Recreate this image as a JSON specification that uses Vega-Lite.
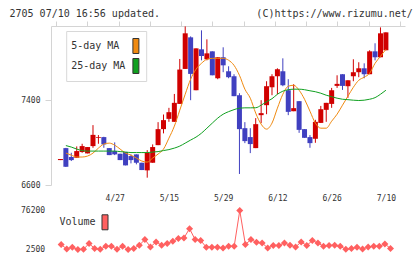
{
  "$schema": "https://vega.github.io/schema/vega-lite/v6.json",
  "background": "#ffffff",
  "padding": {"left": 9, "top": 9, "right": 0, "bottom": 0},
  "title": {
    "text": "2705 07/10 16:56 updated.\u00a0\u00a0\u00a0\u00a0\u00a0\u00a0\u00a0\u00a0\u00a0\u00a0\u00a0\u00a0\u00a0\u00a0\u00a0\u00a0(C)https://www.rizumu.net/",
    "anchor": "start",
    "font": "DejaVu Sans Mono",
    "fontSize": 10,
    "fontWeight": "normal",
    "color": "#333333",
    "dx": -11,
    "offset": 1.5
  },
  "config": {
    "view": {"stroke": null},
    "font": "DejaVu Sans Mono",
    "axis": {
      "labelFont": "DejaVu Sans Mono",
      "labelFontSize": 8,
      "labelColor": "#333333",
      "domainColor": "#d4d4d4",
      "tickColor": "#d4d4d4",
      "grid": false,
      "title": null
    },
    "legend": {"labelFont": "DejaVu Sans Mono", "labelFontSize": 10, "labelColor": "#333333"}
  },
  "datasets": {
    "stock": [
      {"i": 0, "date": "4/13", "open": 6835, "high": 6845, "low": 6835, "close": 6845, "ma5": null, "ma25": null, "volume": null},
      {"i": 1, "date": "4/14", "open": 6948, "high": 6950, "low": 6770, "close": 6772, "ma5": 6901, "ma25": 6972, "volume": 11900},
      {"i": 2, "date": "4/15", "open": 6864, "high": 6904, "low": 6826, "close": 6835, "ma5": 6882, "ma25": 6958, "volume": 3600},
      {"i": 3, "date": "4/16", "open": 6857, "high": 6964, "low": 6857, "close": 6920, "ma5": 6864, "ma25": 6939, "volume": 6800},
      {"i": 4, "date": "4/17", "open": 6911, "high": 6989, "low": 6904, "close": 6967, "ma5": 6864, "ma25": 6925, "volume": 2500},
      {"i": 5, "date": "4/20", "open": 6898, "high": 6958, "low": 6898, "close": 6958, "ma5": 6873, "ma25": 6920, "volume": 3000},
      {"i": 6, "date": "4/21", "open": 6967, "high": 7165, "low": 6951, "close": 7073, "ma5": 6901, "ma25": 6920, "volume": 13750},
      {"i": 7, "date": "4/22", "open": 7045, "high": 7071, "low": 6989, "close": 7052, "ma5": 6948, "ma25": 6920, "volume": 4400},
      {"i": 8, "date": "4/23", "open": 7052, "high": 7055, "low": 6951, "close": 6983, "ma5": 6986, "ma25": 6920, "volume": 3000},
      {"i": 9, "date": "4/24", "open": 6948, "high": 6948, "low": 6882, "close": 6882, "ma5": 6995, "ma25": 6920, "volume": 8700},
      {"i": 10, "date": "4/27", "open": 6920, "high": 7002, "low": 6882, "close": 6889, "ma5": 6976, "ma25": 6920, "volume": 8700},
      {"i": 11, "date": "4/28", "open": 6895, "high": 6895, "low": 6835, "close": 6835, "ma5": 6939, "ma25": 6915, "volume": 2900},
      {"i": 12, "date": "4/30", "open": 6911, "high": 6911, "low": 6785, "close": 6785, "ma5": 6901, "ma25": 6911, "volume": 8700},
      {"i": 13, "date": "5/1", "open": 6873, "high": 6889, "low": 6804, "close": 6835, "ma5": 6882, "ma25": 6906, "volume": 2500},
      {"i": 14, "date": "5/7", "open": 6889, "high": 6889, "low": 6795, "close": 6810, "ma5": 6854, "ma25": 6906, "volume": 4400},
      {"i": 15, "date": "5/8", "open": 6810, "high": 6810, "low": 6741, "close": 6741, "ma5": 6826, "ma25": 6906, "volume": 10600},
      {"i": 16, "date": "5/11", "open": 6738, "high": 6929, "low": 6669, "close": 6904, "ma5": 6816, "ma25": 6906, "volume": 21300},
      {"i": 17, "date": "5/12", "open": 6810, "high": 6983, "low": 6810, "close": 6958, "ma5": 6854, "ma25": 6911, "volume": 7400},
      {"i": 18, "date": "5/13", "open": 6976, "high": 7193, "low": 6976, "close": 7127, "ma5": 6892, "ma25": 6915, "volume": 16800},
      {"i": 19, "date": "5/14", "open": 7127, "high": 7265, "low": 7087, "close": 7212, "ma5": 6939, "ma25": 6925, "volume": 10600},
      {"i": 20, "date": "5/15", "open": 7224, "high": 7328, "low": 7196, "close": 7287, "ma5": 7042, "ma25": 6934, "volume": 13800},
      {"i": 21, "date": "5/18", "open": 7196, "high": 7459, "low": 7196, "close": 7375, "ma5": 7155, "ma25": 6948, "volume": 18100},
      {"i": 22, "date": "5/19", "open": 7365, "high": 7789, "low": 7365, "close": 7689, "ma5": 7306, "ma25": 6967, "volume": 23100},
      {"i": 23, "date": "5/20", "open": 7695, "high": 8096, "low": 7695, "close": 8031, "ma5": 7456, "ma25": 6995, "volume": 24300},
      {"i": 24, "date": "5/21", "open": 7993, "high": 8002, "low": 7400, "close": 7648, "ma5": 7598, "ma25": 7024, "volume": 41900},
      {"i": 25, "date": "5/22", "open": 7494, "high": 7889, "low": 7494, "close": 7889, "ma5": 7692, "ma25": 7052, "volume": 21300},
      {"i": 26, "date": "5/25", "open": 7880, "high": 8059, "low": 7776, "close": 7817, "ma5": 7748, "ma25": 7089, "volume": 19400},
      {"i": 27, "date": "5/26", "open": 7786, "high": 7974, "low": 7776, "close": 7842, "ma5": 7786, "ma25": 7136, "volume": 6800},
      {"i": 28, "date": "5/27", "open": 7861, "high": 7861, "low": 7635, "close": 7635, "ma5": 7795, "ma25": 7184, "volume": 6800},
      {"i": 29, "date": "5/28", "open": 7607, "high": 7805, "low": 7598, "close": 7805, "ma5": 7795, "ma25": 7231, "volume": 6800},
      {"i": 30, "date": "5/29", "open": 7805, "high": 7899, "low": 7664, "close": 7729, "ma5": 7795, "ma25": 7268, "volume": 5500},
      {"i": 31, "date": "6/1", "open": 7673, "high": 7720, "low": 7607, "close": 7617, "ma5": 7777, "ma25": 7292, "volume": 8700},
      {"i": 32, "date": "6/2", "open": 7626, "high": 7645, "low": 7438, "close": 7438, "ma5": 7729, "ma25": 7311, "volume": 8700},
      {"i": 33, "date": "6/3", "open": 7447, "high": 7466, "low": 6704, "close": 7127, "ma5": 7635, "ma25": 7325, "volume": 76200},
      {"i": 34, "date": "6/4", "open": 7136, "high": 7193, "low": 6995, "close": 7014, "ma5": 7504, "ma25": 7328, "volume": 11900},
      {"i": 35, "date": "6/5", "open": 7052, "high": 7136, "low": 6901, "close": 6986, "ma5": 7419, "ma25": 7328, "volume": 21300},
      {"i": 36, "date": "6/8", "open": 6948, "high": 7231, "low": 6948, "close": 7174, "ma5": 7278, "ma25": 7329, "volume": 16200},
      {"i": 37, "date": "6/9", "open": 7259, "high": 7400, "low": 7184, "close": 7278, "ma5": 7174, "ma25": 7353, "volume": 14900},
      {"i": 38, "date": "6/10", "open": 7353, "high": 7579, "low": 7268, "close": 7532, "ma5": 7127, "ma25": 7386, "volume": 5500},
      {"i": 39, "date": "6/11", "open": 7522, "high": 7645, "low": 7447, "close": 7626, "ma5": 7184, "ma25": 7414, "volume": 10000},
      {"i": 40, "date": "6/12", "open": 7626, "high": 7701, "low": 7456, "close": 7692, "ma5": 7325, "ma25": 7456, "volume": 10000},
      {"i": 41, "date": "6/15", "open": 7673, "high": 7795, "low": 7532, "close": 7541, "ma5": 7456, "ma25": 7485, "volume": 14900},
      {"i": 42, "date": "6/16", "open": 7494, "high": 7598, "low": 7259, "close": 7290, "ma5": 7532, "ma25": 7499, "volume": 10600},
      {"i": 43, "date": "6/17", "open": 7296, "high": 7551, "low": 7296, "close": 7325, "ma5": 7541, "ma25": 7504, "volume": 7400},
      {"i": 44, "date": "6/18", "open": 7391, "high": 7391, "low": 7092, "close": 7120, "ma5": 7494, "ma25": 7504, "volume": 16800},
      {"i": 45, "date": "6/19", "open": 7127, "high": 7127, "low": 7045, "close": 7045, "ma5": 7409, "ma25": 7499, "volume": 10000},
      {"i": 46, "date": "6/22", "open": 7052, "high": 7071, "low": 6951, "close": 6995, "ma5": 7296, "ma25": 7489, "volume": 19400},
      {"i": 47, "date": "6/23", "open": 7036, "high": 7215, "low": 6998, "close": 7196, "ma5": 7184, "ma25": 7480, "volume": 14900},
      {"i": 48, "date": "6/24", "open": 7186, "high": 7346, "low": 7186, "close": 7315, "ma5": 7136, "ma25": 7466, "volume": 8700},
      {"i": 49, "date": "6/25", "open": 7309, "high": 7375, "low": 7196, "close": 7375, "ma5": 7136, "ma25": 7447, "volume": 10000},
      {"i": 50, "date": "6/26", "open": 7365, "high": 7516, "low": 7328, "close": 7494, "ma5": 7202, "ma25": 7433, "volume": 10600},
      {"i": 51, "date": "6/29", "open": 7535, "high": 7635, "low": 7516, "close": 7554, "ma5": 7268, "ma25": 7419, "volume": 8700},
      {"i": 52, "date": "6/30", "open": 7645, "high": 7645, "low": 7497, "close": 7535, "ma5": 7353, "ma25": 7409, "volume": 2800},
      {"i": 53, "date": "7/1", "open": 7532, "high": 7588, "low": 7422, "close": 7588, "ma5": 7438, "ma25": 7405, "volume": 4400},
      {"i": 54, "date": "7/2", "open": 7626, "high": 7786, "low": 7579, "close": 7664, "ma5": 7522, "ma25": 7400, "volume": 6800},
      {"i": 55, "date": "7/3", "open": 7664, "high": 7758, "low": 7617, "close": 7701, "ma5": 7588, "ma25": 7397, "volume": 3600},
      {"i": 56, "date": "7/6", "open": 7701, "high": 7748, "low": 7607, "close": 7645, "ma5": 7617, "ma25": 7400, "volume": 7400},
      {"i": 57, "date": "7/7", "open": 7645, "high": 7871, "low": 7645, "close": 7861, "ma5": 7654, "ma25": 7409, "volume": 8700},
      {"i": 58, "date": "7/8", "open": 7861, "high": 7937, "low": 7776, "close": 7805, "ma5": 7748, "ma25": 7424, "volume": 8700},
      {"i": 59, "date": "7/9", "open": 7805, "high": 8087, "low": 7805, "close": 8031, "ma5": 7814, "ma25": 7456, "volume": 13000},
      {"i": 60, "date": "7/10", "open": 7871, "high": 8040, "low": 7871, "close": 8040, "ma5": 7880, "ma25": 7494, "volume": 4400}
    ]
  },
  "data": {"name": "stock"},
  "spacing": 3.5,
  "resolve": {
    "scale": {"x": "independent", "y": "independent", "fill": "independent"},
    "legend": {"fill": "independent"}
  },
  "vconcat": [
    {
      "width": 354,
      "height": 159,
      "layer": [
        {
          "mark": {"type": "rule", "strokeWidth": 1},
          "encoding": {
            "x": {
              "field": "i",
              "type": "quantitative",
              "scale": {"domain": [-0.82, 62.6], "nice": false, "zero": false},
              "axis": {
                "values": [10, 20, 30, 40, 50, 60],
                "labelExpr": "datum.value == 10 ? '4/27' : datum.value == 20 ? '5/15' : datum.value == 30 ? '5/29' : datum.value == 40 ? '6/12' : datum.value == 50 ? '6/26' : '7/10'",
                "ticks": false,
                "domain": false,
                "labelPadding": 9.5,
                "labelFlush": false,
                "labelOverlap": false
              }
            },
            "y": {
              "field": "low",
              "type": "quantitative",
              "scale": {"domain": [6600, 8100], "nice": false, "zero": false},
              "axis": {"values": [6600, 7400], "format": "d", "tickSize": 6, "labelPadding": 5, "domain": true}
            },
            "y2": {"field": "high"},
            "color": {"condition": {"test": "datum.close >= datum.open", "value": "#d00000"}, "value": "#4040c0"}
          }
        },
        {
          "mark": {"type": "bar", "width": 5},
          "encoding": {
            "x": {
              "field": "i",
              "type": "quantitative",
              "axis": {
                "values": [-0.82, 4.945, 10.71, 16.475, 22.24, 28.005, 33.77, 39.535, 45.3, 51.065, 56.83, 62.595],
                "labels": false,
                "tickSize": 5,
                "domain": true
              }
            },
            "y": {"field": "open", "type": "quantitative"},
            "y2": {"field": "close"},
            "color": {"condition": {"test": "datum.close >= datum.open", "value": "#d00000"}, "value": "#4040c0"}
          }
        },
        {
          "mark": {"type": "line", "strokeWidth": 1, "interpolate": "monotone", "color": "#f08a10"},
          "encoding": {
            "x": {"field": "i", "type": "quantitative", "axis": null},
            "y": {"field": "ma5", "type": "quantitative"}
          }
        },
        {
          "mark": {"type": "line", "strokeWidth": 1, "interpolate": "monotone", "color": "#10a020"},
          "encoding": {
            "x": {"field": "i", "type": "quantitative", "axis": null},
            "y": {"field": "ma25", "type": "quantitative"}
          }
        },
        {
          "transform": [{"filter": "false"}],
          "mark": {"type": "square", "filled": true, "stroke": "#333333", "strokeWidth": 1},
          "encoding": {
            "fill": {
              "field": "date",
              "type": "nominal",
              "scale": {"domain": ["\u00a05-day MA", "25-day MA"], "range": ["#f08a10", "#10a020"]},
              "legend": {
                "orient": "none",
                "legendX": 15.2,
                "legendY": 5,
                "title": null,
                "padding": 5,
                "cornerRadius": 0,
                "strokeColor": "#d8d8d8",
                "fillColor": "#ffffff",
                "symbolType": "M-0.316,-0.789H0.316V0.789H-0.316Z",
                "symbolSize": 361,
                "symbolStrokeColor": "#333333",
                "symbolStrokeWidth": 1,
                "symbolOpacity": 1,
                "labelAlign": "left",
                "labelOffset": -74.7,
                "symbolOffset": 54.7,
                "rowPadding": -3,
                "labelFontSize": 10
              }
            }
          }
        }
      ],
      "resolve": {"axis": {"x": "independent"}}
    },
    {
      "width": 354,
      "height": 39,
      "layer": [
        {
          "mark": {"type": "line", "strokeWidth": 1, "color": "#ff6060"},
          "encoding": {
            "x": {
              "field": "i",
              "type": "quantitative",
              "scale": {"domain": [-0.82, 62.6], "nice": false, "zero": false},
              "axis": null
            },
            "y": {
              "field": "volume",
              "type": "quantitative",
              "scale": {"domain": [2500, 76200], "nice": false, "zero": false},
              "axis": {"values": [2500, 39350, 76200], "format": "d", "domain": false, "ticks": false, "labelPadding": 6.4}
            }
          }
        },
        {
          "mark": {"type": "point", "shape": "diamond", "size": 49, "filled": true, "opacity": 1, "color": "#ff6060"},
          "encoding": {
            "x": {"field": "i", "type": "quantitative"},
            "y": {"field": "volume", "type": "quantitative"}
          }
        },
        {
          "transform": [{"filter": "false"}],
          "mark": {"type": "square", "filled": true, "stroke": "#333333", "strokeWidth": 1},
          "encoding": {
            "fill": {
              "field": "date",
              "type": "nominal",
              "scale": {"domain": ["Volume"], "range": ["#ff6060"]},
              "legend": {
                "orient": "none",
                "legendX": 8.5,
                "legendY": 1.8,
                "title": null,
                "padding": 0,
                "symbolType": "M-0.316,-0.789H0.316V0.789H-0.316Z",
                "symbolSize": 361,
                "symbolStrokeColor": "#333333",
                "symbolStrokeWidth": 1,
                "symbolOpacity": 1,
                "labelAlign": "left",
                "labelOffset": -55.5,
                "symbolOffset": 35.5,
                "labelFontSize": 10
              }
            }
          }
        }
      ]
    }
  ]
}
